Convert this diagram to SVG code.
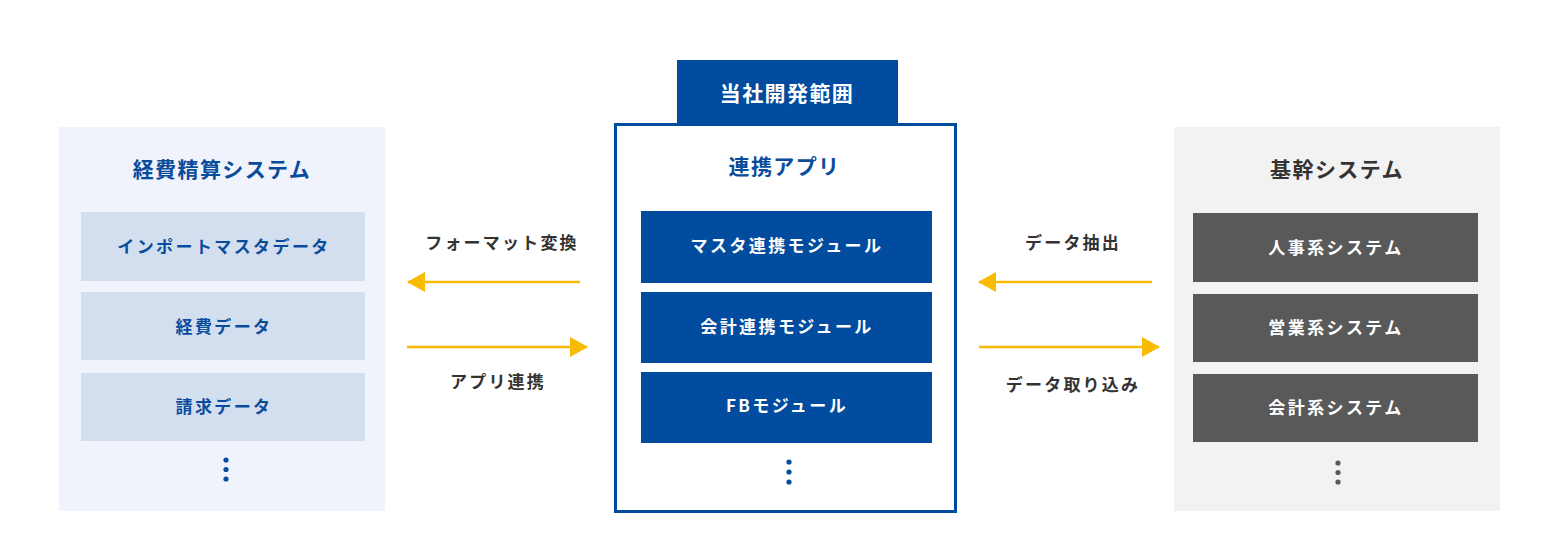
<svg xmlns="http://www.w3.org/2000/svg" width="1561" height="559" viewBox="0 0 1561 559">
<defs>
<style>
text{font-family:"Noto Sans CJK JP","Noto Sans",sans-serif;font-weight:bold;text-anchor:middle;dominant-baseline:central}
.title{font-size:21px;letter-spacing:1.4px}
.item{font-size:17px;letter-spacing:2.4px}
.lbl{font-size:17px;letter-spacing:2.2px;fill:#333}
.blue{fill:#0a4c9c}
.white{fill:#fff}
.conn{stroke:#f9bb00;stroke-width:2.5;fill:none}
</style>
<marker id="ah" viewBox="0 0 18 20" refX="17" refY="10" markerWidth="18" markerHeight="20" markerUnits="userSpaceOnUse" orient="auto">
<path d="M0,0 L18,10 L0,20 Z" fill="#f9bb00"/>
</marker>
</defs>
<rect width="1561" height="559" fill="#fff"/>

<g id="expense-system">
<rect x="59" y="127" width="326" height="384" fill="#f0f3fb"/>
<text class="title blue" x="222" y="168">経費精算システム</text>
<rect x="81" y="212" width="284" height="69" fill="#d3deef"/>
<text class="item blue" x="224" y="245">インポートマスタデータ</text>
<rect x="81" y="292" width="284" height="68" fill="#d3deef"/>
<text class="item blue" x="224" y="325">経費データ</text>
<rect x="81" y="373" width="284" height="68" fill="#d3deef"/>
<text class="item blue" x="224" y="405">請求データ</text>
<circle cx="226" cy="460" r="2.6" fill="#0a4c9c"/>
<circle cx="226" cy="469.5" r="2.6" fill="#0a4c9c"/>
<circle cx="226" cy="479" r="2.6" fill="#0a4c9c"/>
</g>

<g id="link-app">
<rect x="677" y="60" width="221" height="64" fill="#014c9e"/>
<text class="title white" x="787" y="92">当社開発範囲</text>
<rect x="615.5" y="124.5" width="340" height="387" fill="#fff" stroke="#014c9e" stroke-width="3"/>
<text class="title blue" x="784.5" y="165">連携アプリ</text>
<rect x="641" y="211" width="291" height="72" fill="#014c9e"/>
<text class="item white" x="787" y="244">マスタ連携モジュール</text>
<rect x="641" y="292" width="291" height="71" fill="#014c9e"/>
<text class="item white" x="787" y="325">会計連携モジュール</text>
<rect x="641" y="372" width="291" height="71" fill="#014c9e"/>
<text class="item white" x="787" y="404">FBモジュール</text>
<circle cx="789" cy="462" r="2.6" fill="#014c9e"/>
<circle cx="789" cy="472" r="2.6" fill="#014c9e"/>
<circle cx="789" cy="482" r="2.6" fill="#014c9e"/>
</g>

<g id="core-system">
<rect x="1174" y="127" width="326" height="384" fill="#f2f2f2"/>
<text class="title" x="1337" y="168" fill="#333">基幹システム</text>
<rect x="1193" y="213" width="285" height="69" fill="#595959"/>
<text class="item white" x="1336" y="246">人事系システム</text>
<rect x="1193" y="294" width="285" height="68" fill="#595959"/>
<text class="item white" x="1336" y="326">営業系システム</text>
<rect x="1193" y="374" width="285" height="68" fill="#595959"/>
<text class="item white" x="1336" y="406">会計系システム</text>
<circle cx="1338" cy="463" r="2.6" fill="#595959"/>
<circle cx="1338" cy="472.5" r="2.6" fill="#595959"/>
<circle cx="1338" cy="482" r="2.6" fill="#595959"/>
</g>

<g id="connectors">
<line class="conn" x1="580" y1="282" x2="408" y2="282" marker-end="url(#ah)"/>
<line class="conn" x1="407" y1="347" x2="587" y2="347" marker-end="url(#ah)"/>
<line class="conn" x1="1152" y1="282" x2="979" y2="282" marker-end="url(#ah)"/>
<line class="conn" x1="979" y1="347" x2="1159" y2="347" marker-end="url(#ah)"/>
<text class="lbl" x="502" y="241">フォーマット変換</text>
<text class="lbl" x="498" y="380">アプリ連携</text>
<text class="lbl" x="1073" y="241">データ抽出</text>
<text class="lbl" x="1073" y="383">データ取り込み</text>
</g>
</svg>
